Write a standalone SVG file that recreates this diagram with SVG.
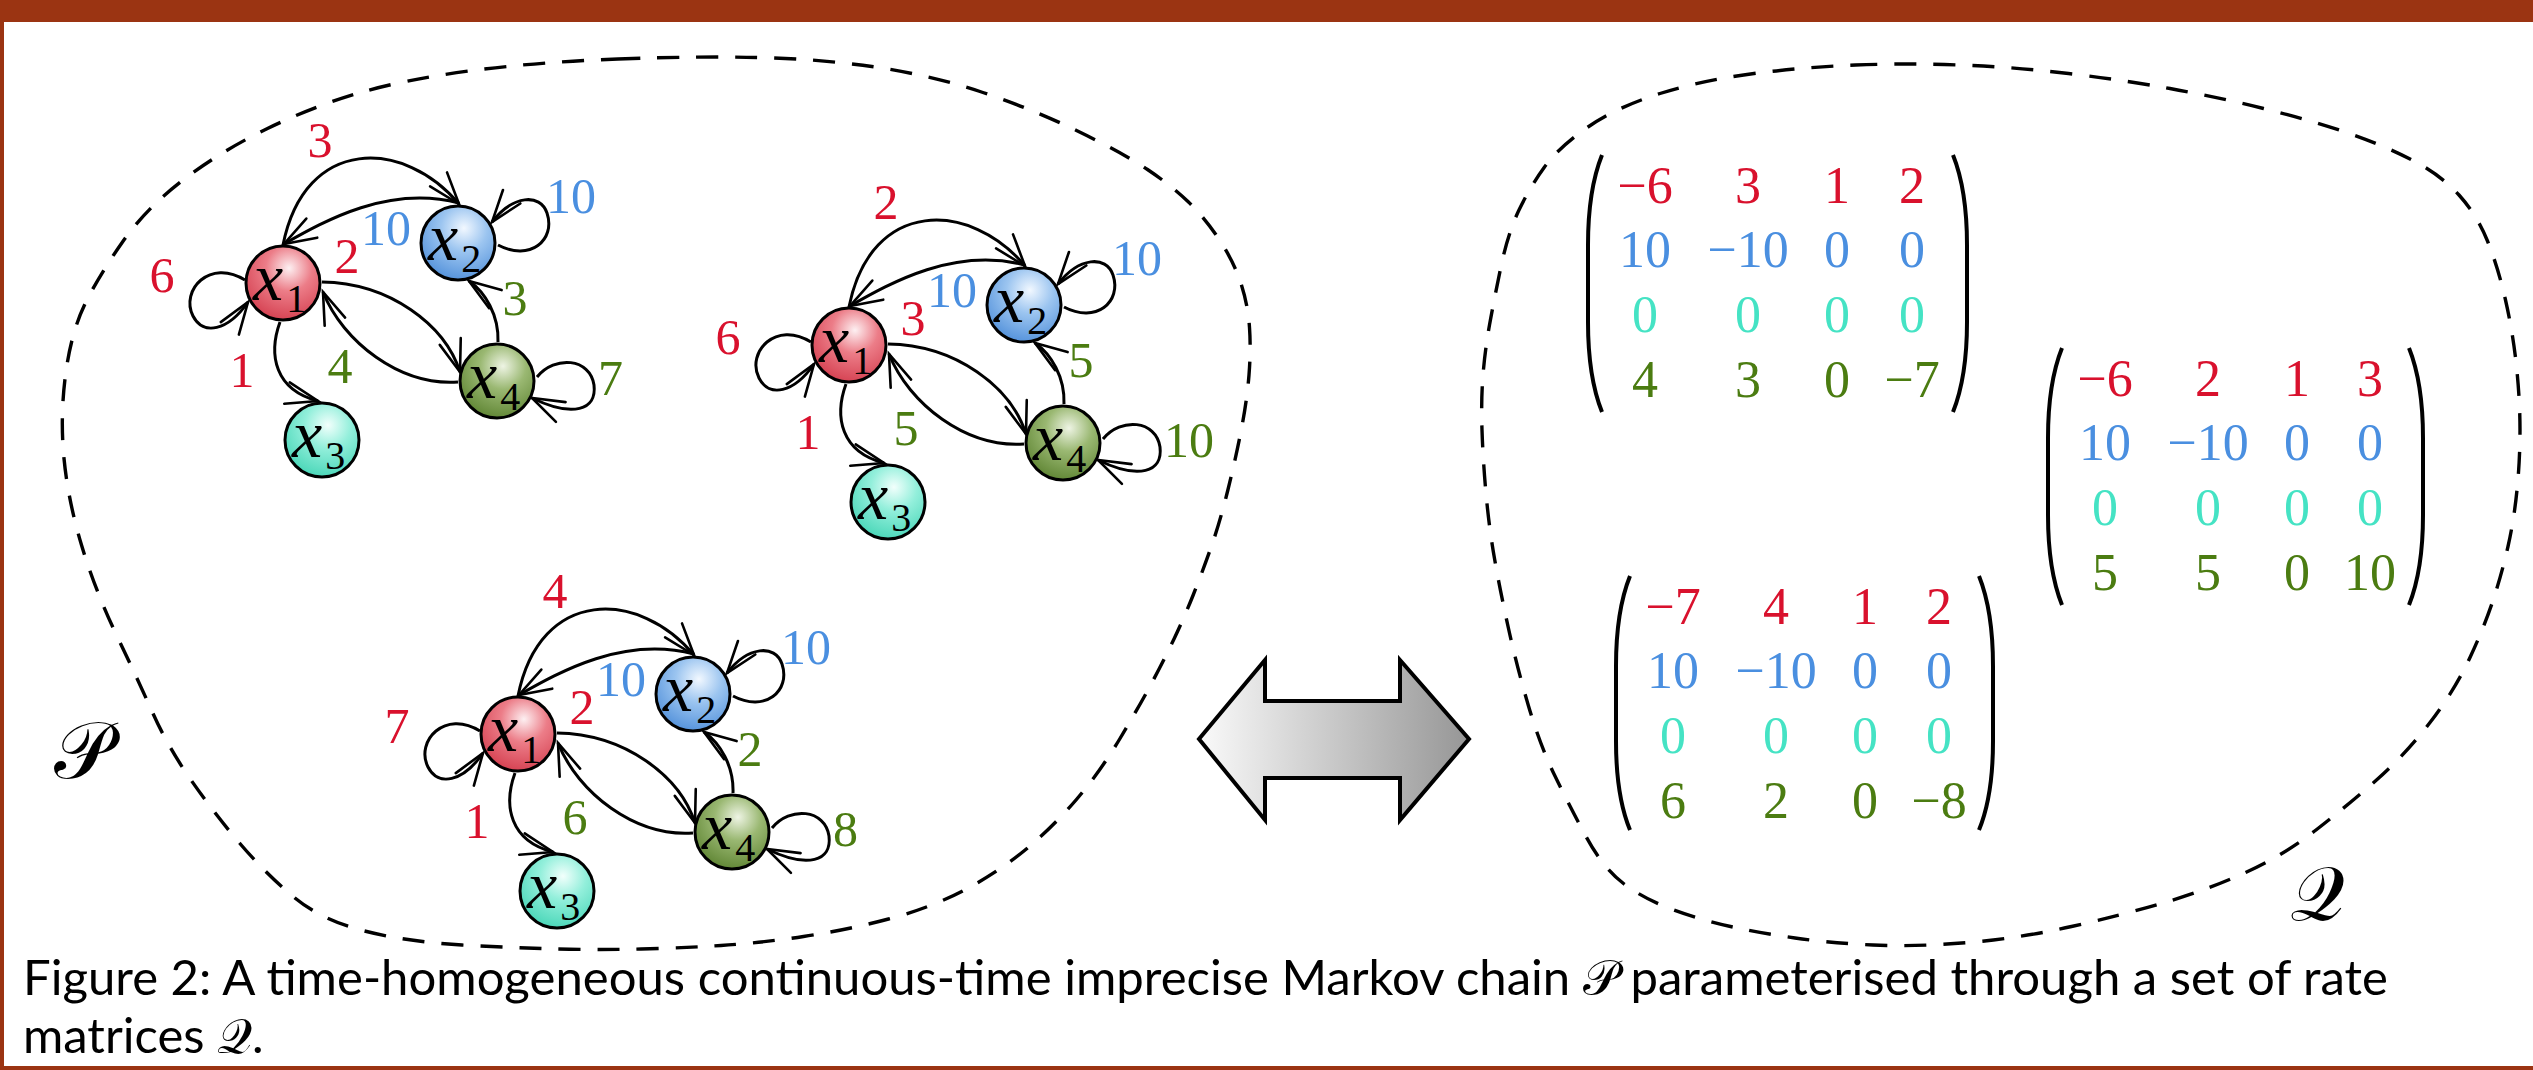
<svg xmlns="http://www.w3.org/2000/svg" width="2533" height="1070" viewBox="0 0 2533 1070">
<style>
.frame{fill:#9b3412}
.dash{fill:none;stroke:#000;stroke-width:3.4;stroke-dasharray:22 17}
.edge path{fill:none;stroke:#000;stroke-width:3;marker-end:url(#ah)}
.node circle{stroke:#000;stroke-width:3}
.nl{font-family:"Liberation Serif","DejaVu Serif",serif;font-style:italic;font-size:68px;fill:#000}
.nl tspan{font-style:normal;font-size:40px}
.lbl{font-family:"Liberation Serif","DejaVu Serif",serif;font-size:50px;text-anchor:middle}
.mx text{font-family:"Liberation Serif","DejaVu Serif",serif;font-size:52px;text-anchor:middle}
.par{fill:none;stroke:#000;stroke-width:4}
.r{fill:#d9112d}.b{fill:#4a8fe0}.t{fill:#45e3c4}.g{fill:#4b7c11}
.cap{font-family:Lato,"Open Sans","DejaVu Sans",sans-serif;font-size:49px;fill:#000}
.sym{font-family:"DejaVu Serif","DejaVu Sans","Noto Sans",serif;fill:#000}
</style>
<defs>
<radialGradient id="gx1" cx="0.58" cy="0.3" r="0.78"><stop offset="0" stop-color="#fdf0f2"/><stop offset="0.4" stop-color="#ec7d88"/><stop offset="1" stop-color="#d2394a"/></radialGradient>
<radialGradient id="gx2" cx="0.58" cy="0.3" r="0.78"><stop offset="0" stop-color="#f2f8ff"/><stop offset="0.4" stop-color="#9cc5f0"/><stop offset="1" stop-color="#4a8bd8"/></radialGradient>
<radialGradient id="gx3" cx="0.58" cy="0.3" r="0.78"><stop offset="0" stop-color="#f2fffc"/><stop offset="0.4" stop-color="#93efdb"/><stop offset="1" stop-color="#3fd3b3"/></radialGradient>
<radialGradient id="gx4" cx="0.58" cy="0.3" r="0.78"><stop offset="0" stop-color="#eef4e4"/><stop offset="0.4" stop-color="#9ab872"/><stop offset="1" stop-color="#587f2c"/></radialGradient>
<linearGradient id="garr" x1="0" y1="0" x2="1" y2="0"><stop offset="0" stop-color="#fafafa"/><stop offset="1" stop-color="#969696"/></linearGradient>
<marker id="ah" markerUnits="userSpaceOnUse" markerWidth="40" markerHeight="30" viewBox="-36 -15 40 30" refX="0" refY="0" orient="auto" overflow="visible"><path d="M-32,-11 L0,0 L-32,11" fill="none" stroke="#000" stroke-width="2.6" stroke-linecap="round"/></marker>
</defs>
<rect width="2533" height="1070" fill="#fff"/>
<rect class="frame" x="0" y="0" width="2533" height="22"/>
<rect class="frame" x="0" y="0" width="4" height="1070"/>
<rect class="frame" x="0" y="1066" width="2533" height="4"/>

<g id="set-P">
<path class="dash" d="M618,59 Q700,56 760,57.5 Q820,59 875,67 Q930,75 980,91.5 Q1030,108 1076.5,130.5 Q1123,153 1147.5,169.5 Q1172,186 1188.5,202 Q1205,218 1219.5,240 Q1234,262 1241,283.5 Q1248,305 1249.5,327.5 Q1251,350 1249,375 Q1247,400 1241.5,428.5 Q1236,457 1228,489.5 Q1220,522 1211,547.5 Q1202,573 1193,595.5 Q1184,618 1174,639 Q1164,660 1152,682.5 Q1140,705 1120,738.5 Q1100,772 1076,800 Q1052,828 1024.5,850.5 Q997,873 963.5,890.5 Q930,908 888.5,919 Q847,930 803.5,936.5 Q760,943 721,945.5 Q682,948 641,949 Q600,950 558,949 Q516,948 462,945 Q408,942 364.5,931 Q321,920 293,896.5 Q265,873 239.5,843 Q214,813 191,780 Q168,747 153,713.5 Q138,680 116.5,635 Q95,590 81.5,545 Q68,500 64,458.5 Q60,417 65.5,375 Q71,333 84.5,305 Q98,277 122.5,242 Q147,207 185,178.5 Q223,150 267.5,128.5 Q312,107 357,93.5 Q402,80 469,71 Q536,62 618,59 Z"/>
<text class="sym" x="54" y="778" font-size="80">𝒫</text>
</g>

<g id="set-Q">
<path class="dash" d="M1855.5,65 Q1906,63 1960,65 Q2014,67 2068.5,73.5 Q2123,80 2170,88.5 Q2217,97 2263.5,108.5 Q2310,120 2346.5,132.5 Q2383,145 2412,160 Q2441,175 2459,195 Q2477,215 2487.5,241 Q2498,267 2505.5,300 Q2513,333 2516.5,366.5 Q2520,400 2520,430 Q2520,460 2517,490 Q2514,520 2508,546.5 Q2502,573 2493.5,599 Q2485,625 2470,657.5 Q2455,690 2430,722.5 Q2405,755 2376.5,780 Q2348,805 2316,830 Q2284,855 2245.5,872.5 Q2207,890 2164.5,902.5 Q2122,915 2071.5,926.5 Q2021,938 1968.5,942.5 Q1916,947 1873,945 Q1830,943 1795,938 Q1760,933 1730.5,926.5 Q1701,920 1672.5,909.5 Q1644,899 1623.5,883.5 Q1603,868 1586,836.5 Q1569,805 1554.5,775 Q1540,745 1528.5,706 Q1517,667 1508.5,628.5 Q1500,590 1494.5,558.5 Q1489,527 1486,493.5 Q1483,460 1482,430 Q1481,400 1483,375 Q1485,350 1489.5,325 Q1494,300 1501,266.5 Q1508,233 1519,210 Q1530,187 1544.5,167 Q1559,147 1588,127 Q1617,107 1660,93.5 Q1703,80 1754,73.5 Q1805,67 1855.5,65 Z"/>
<text class="sym" x="2290" y="920" font-size="76">𝒬</text>
</g>

<!-- Graph 1 -->
<g id="graph1" transform="translate(283,283)">
<g id="graph1-edges" class="edge">
<path d="M0,-38 C22,-148 122,-144 176,-79"/>
<path d="M176,-80 C106,-98 43,-63 1,-39"/>
<path d="M39,-1 C107,0 162,42 177,89"/>
<path d="M175,99 C117,103 60,59 40,9"/>
<path d="M215,59 C216,32 202,9 186,-2"/>
<path d="M-3,39 C-15,72 -8,107 35,118"/>
<path d="M-38,-3 C-73,-25 -103,7 -90,33 C-80,53 -55,48 -35,19"/>
<path d="M215,-38 C247,-21 273,-43 264,-70 C257,-90 230,-88 209,-61"/>
<path d="M254,94 C272,72 307,75 311,102 C314,127 290,135 249,115"/>
</g>
<g id="graph1-x1" class="node"><circle cx="0" cy="0" r="37" fill="url(#gx1)"/><text class="nl" x="-30" y="17">x<tspan dx="3" dy="12">1</tspan></text></g>
<g id="graph1-x2" class="node"><circle cx="175" cy="-40" r="37" fill="url(#gx2)"/><text class="nl" x="145" y="-23">x<tspan dx="3" dy="12">2</tspan></text></g>
<g id="graph1-x3" class="node"><circle cx="39" cy="157" r="37" fill="url(#gx3)"/><text class="nl" x="9" y="174">x<tspan dx="3" dy="12">3</tspan></text></g>
<g id="graph1-x4" class="node"><circle cx="214" cy="98" r="37" fill="url(#gx4)"/><text class="nl" x="184" y="115">x<tspan dx="3" dy="12">4</tspan></text></g>
<g id="graph1-labels" class="lbl">
<text class="r" x="37" y="-126">3</text>
<text class="b" x="103" y="-38">10</text>
<text class="b" x="288" y="-70">10</text>
<text class="r" x="64" y="-10">2</text>
<text class="r" x="-121" y="9">6</text>
<text class="g" x="232" y="32">3</text>
<text class="r" x="-41" y="104">1</text>
<text class="g" x="57" y="100">4</text>
<text class="g" x="315" y="112" text-anchor="start">7</text>
</g>
</g>

<!-- Graph 2 -->
<g id="graph2" transform="translate(849,345)">
<g id="graph2-edges" class="edge">
<path d="M0,-38 C22,-148 122,-144 176,-79"/>
<path d="M176,-80 C106,-98 43,-63 1,-39"/>
<path d="M39,-1 C107,0 162,42 177,89"/>
<path d="M175,99 C117,103 60,59 40,9"/>
<path d="M215,59 C216,32 202,9 186,-2"/>
<path d="M-3,39 C-15,72 -8,107 35,118"/>
<path d="M-38,-3 C-73,-25 -103,7 -90,33 C-80,53 -55,48 -35,19"/>
<path d="M215,-38 C247,-21 273,-43 264,-70 C257,-90 230,-88 209,-61"/>
<path d="M254,94 C272,72 307,75 311,102 C314,127 290,135 249,115"/>
</g>
<g id="graph2-x1" class="node"><circle cx="0" cy="0" r="37" fill="url(#gx1)"/><text class="nl" x="-30" y="17">x<tspan dx="3" dy="12">1</tspan></text></g>
<g id="graph2-x2" class="node"><circle cx="175" cy="-40" r="37" fill="url(#gx2)"/><text class="nl" x="145" y="-23">x<tspan dx="3" dy="12">2</tspan></text></g>
<g id="graph2-x3" class="node"><circle cx="39" cy="157" r="37" fill="url(#gx3)"/><text class="nl" x="9" y="174">x<tspan dx="3" dy="12">3</tspan></text></g>
<g id="graph2-x4" class="node"><circle cx="214" cy="98" r="37" fill="url(#gx4)"/><text class="nl" x="184" y="115">x<tspan dx="3" dy="12">4</tspan></text></g>
<g id="graph2-labels" class="lbl">
<text class="r" x="37" y="-126">2</text>
<text class="b" x="103" y="-38">10</text>
<text class="b" x="288" y="-70">10</text>
<text class="r" x="64" y="-10">3</text>
<text class="r" x="-121" y="9">6</text>
<text class="g" x="232" y="32">5</text>
<text class="r" x="-41" y="104">1</text>
<text class="g" x="57" y="100">5</text>
<text class="g" x="315" y="112" text-anchor="start">10</text>
</g>
</g>

<!-- Graph 3 -->
<g id="graph3" transform="translate(518,734)">
<g id="graph3-edges" class="edge">
<path d="M0,-38 C22,-148 122,-144 176,-79"/>
<path d="M176,-80 C106,-98 43,-63 1,-39"/>
<path d="M39,-1 C107,0 162,42 177,89"/>
<path d="M175,99 C117,103 60,59 40,9"/>
<path d="M215,59 C216,32 202,9 186,-2"/>
<path d="M-3,39 C-15,72 -8,107 35,118"/>
<path d="M-38,-3 C-73,-25 -103,7 -90,33 C-80,53 -55,48 -35,19"/>
<path d="M215,-38 C247,-21 273,-43 264,-70 C257,-90 230,-88 209,-61"/>
<path d="M254,94 C272,72 307,75 311,102 C314,127 290,135 249,115"/>
</g>
<g id="graph3-x1" class="node"><circle cx="0" cy="0" r="37" fill="url(#gx1)"/><text class="nl" x="-30" y="17">x<tspan dx="3" dy="12">1</tspan></text></g>
<g id="graph3-x2" class="node"><circle cx="175" cy="-40" r="37" fill="url(#gx2)"/><text class="nl" x="145" y="-23">x<tspan dx="3" dy="12">2</tspan></text></g>
<g id="graph3-x3" class="node"><circle cx="39" cy="157" r="37" fill="url(#gx3)"/><text class="nl" x="9" y="174">x<tspan dx="3" dy="12">3</tspan></text></g>
<g id="graph3-x4" class="node"><circle cx="214" cy="98" r="37" fill="url(#gx4)"/><text class="nl" x="184" y="115">x<tspan dx="3" dy="12">4</tspan></text></g>
<g id="graph3-labels" class="lbl">
<text class="r" x="37" y="-126">4</text>
<text class="b" x="103" y="-38">10</text>
<text class="b" x="288" y="-70">10</text>
<text class="r" x="64" y="-10">2</text>
<text class="r" x="-121" y="9">7</text>
<text class="g" x="232" y="32">2</text>
<text class="r" x="-41" y="104">1</text>
<text class="g" x="57" y="100">6</text>
<text class="g" x="315" y="112" text-anchor="start">8</text>
</g>
</g>

<!-- double arrow -->
<g id="double-arrow">
<path d="M1199,739 L1265,660 L1265,701 L1400,701 L1400,660 L1469,739 L1400,820 L1400,778 L1265,778 L1265,820 Z" fill="url(#garr)" stroke="#000" stroke-width="4" stroke-linejoin="miter"/>
</g>

<!-- Matrix 1 -->
<g id="matrix1" class="mx" transform="translate(1588,155)">
<path class="par" d="M14,0 Q0,35 0,90 L0,167 Q0,222 14,257"/>
<path class="par" d="M365,0 Q379,35 379,90 L379,167 Q379,222 365,257"/>
<g class="r"><text x="57" y="48">−6</text><text x="160" y="48">3</text><text x="249" y="48">1</text><text x="324" y="48">2</text></g>
<g class="b"><text x="57" y="112">10</text><text x="160" y="112">−10</text><text x="249" y="112">0</text><text x="324" y="112">0</text></g>
<g class="t"><text x="57" y="177">0</text><text x="160" y="177">0</text><text x="249" y="177">0</text><text x="324" y="177">0</text></g>
<g class="g"><text x="57" y="242">4</text><text x="160" y="242">3</text><text x="249" y="242">0</text><text x="324" y="242">−7</text></g>
</g>

<!-- Matrix 2 -->
<g id="matrix2" class="mx" transform="translate(2048,348)">
<path class="par" d="M14,0 Q0,35 0,90 L0,167 Q0,222 14,257"/>
<path class="par" d="M361,0 Q375,35 375,90 L375,167 Q375,222 361,257"/>
<g class="r"><text x="57" y="48">−6</text><text x="160" y="48">2</text><text x="249" y="48">1</text><text x="322" y="48">3</text></g>
<g class="b"><text x="57" y="112">10</text><text x="160" y="112">−10</text><text x="249" y="112">0</text><text x="322" y="112">0</text></g>
<g class="t"><text x="57" y="177">0</text><text x="160" y="177">0</text><text x="249" y="177">0</text><text x="322" y="177">0</text></g>
<g class="g"><text x="57" y="242">5</text><text x="160" y="242">5</text><text x="249" y="242">0</text><text x="322" y="242">10</text></g>
</g>

<!-- Matrix 3 -->
<g id="matrix3" class="mx" transform="translate(1616,576)">
<path class="par" d="M14,0 Q0,35 0,90 L0,165 Q0,220 14,254"/>
<path class="par" d="M363,0 Q377,35 377,90 L377,165 Q377,220 363,254"/>
<g class="r"><text x="57" y="48">−7</text><text x="160" y="48">4</text><text x="249" y="48">1</text><text x="323" y="48">2</text></g>
<g class="b"><text x="57" y="112">10</text><text x="160" y="112">−10</text><text x="249" y="112">0</text><text x="323" y="112">0</text></g>
<g class="t"><text x="57" y="177">0</text><text x="160" y="177">0</text><text x="249" y="177">0</text><text x="323" y="177">0</text></g>
<g class="g"><text x="57" y="242">6</text><text x="160" y="242">2</text><text x="249" y="242">0</text><text x="323" y="242">−8</text></g>
</g>

<g id="caption">
<text class="cap" x="23" y="995" textLength="2365" lengthAdjust="spacingAndGlyphs">Figure 2: A time-homogeneous continuous-time imprecise Markov chain 𝒫 parameterised through a set of rate</text>
<text class="cap" x="23" y="1053">matrices 𝒬.</text>
</g>
</svg>
